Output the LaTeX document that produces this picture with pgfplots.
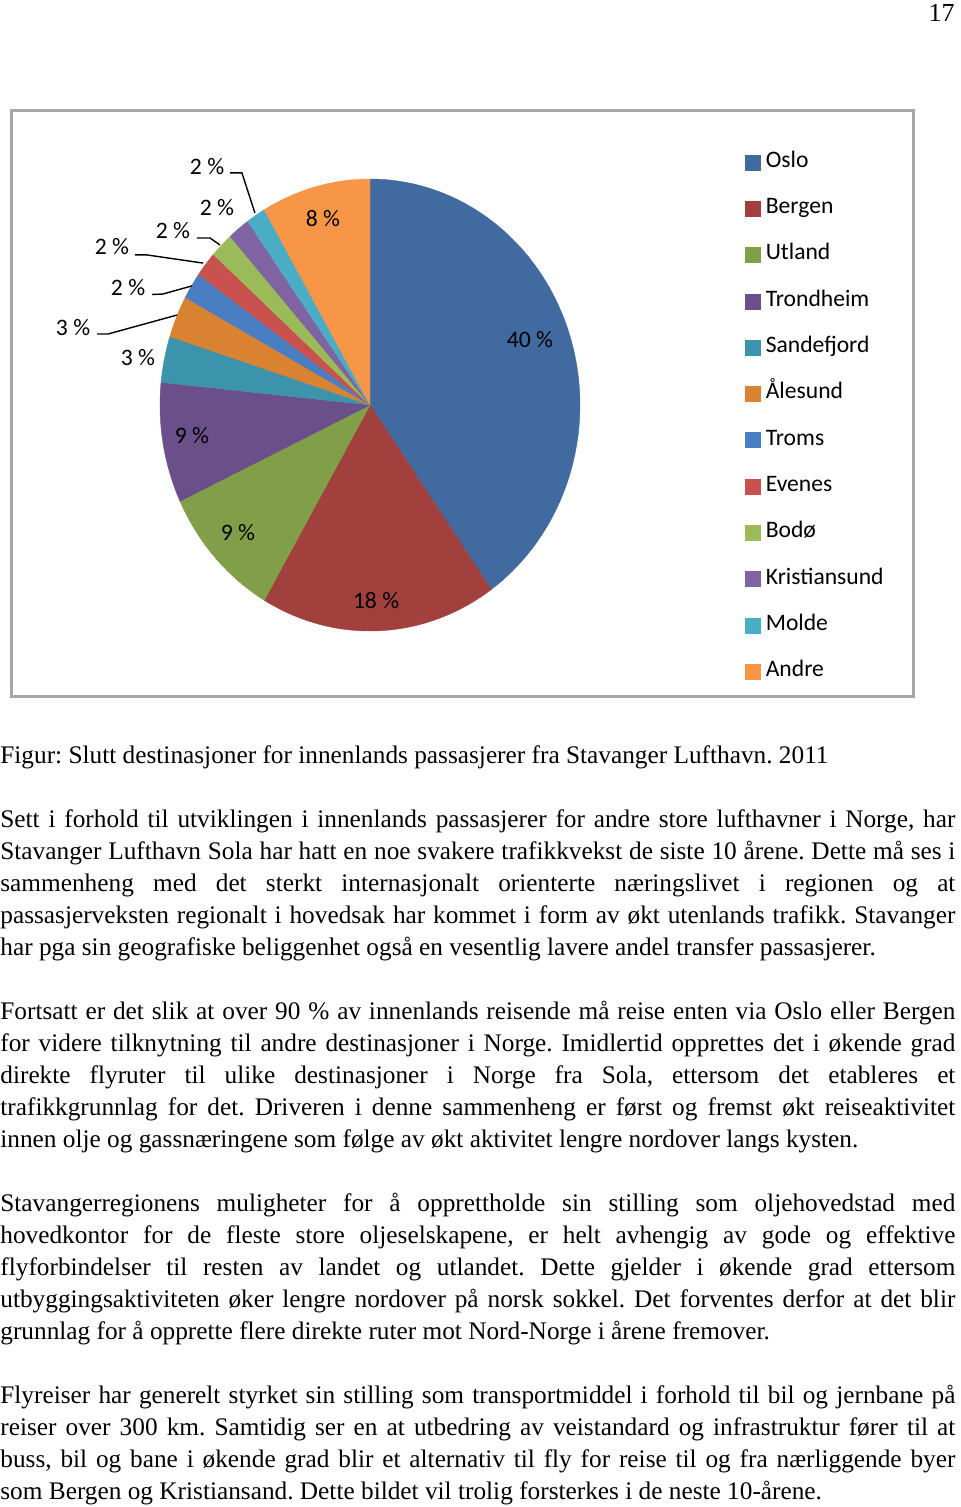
\documentclass[border=0pt]{standalone}
\usepackage{fontspec}
\setmainfont{Liberation Serif}
\newfontfamily\chartfont{Carlito}
\usepackage{pgfplots}
\pgfplotsset{compat=1.18}

% slice colours (Excel style)
\definecolor{cOslo}{RGB}{64,106,160}
\definecolor{cBergen}{RGB}{161,64,61}
\definecolor{cUtland}{RGB}{129,158,72}
\definecolor{cTrondheim}{RGB}{106,79,138}
\definecolor{cSandefjord}{RGB}{60,147,172}
\definecolor{cAalesund}{RGB}{216,130,50}
\definecolor{cTroms}{RGB}{74,126,194}
\definecolor{cEvenes}{RGB}{200,80,77}
\definecolor{cBodo}{RGB}{155,187,89}
\definecolor{cKristiansund}{RGB}{128,100,162}
\definecolor{cMolde}{RGB}{75,172,198}
\definecolor{cAndre}{RGB}{247,150,70}

\newcommand\bodysize{\fontsize{12.65}{16}\selectfont\frenchspacing}
\newcommand\jline[2]{\node[anchor=base west,inner sep=0pt,font=\bodysize] at (0,#1) {\makebox[477.5pt][s]{#2}};}
\newcommand\lline[2]{\node[anchor=base west,inner sep=0pt,font=\bodysize] at (0,#1) {#2};}

\begin{document}
\begin{tikzpicture}[x=0.5pt,y=-0.5pt]
\path[use as bounding box] (0,0) rectangle (960,1507);
\node[anchor=base east,inner sep=0pt,font=\fontsize{13}{16}\selectfont] at (955,22) {17};
\draw[line width=1.5pt,color=gray!70] (11,111) rectangle (913,696);

\begin{axis}[
    at={(185pt,-202.5pt)}, anchor=origin,
    x=105pt, y=113pt,
    xmin=-1, xmax=1, ymin=-1, ymax=1,
    hide axis, clip=false,
    legend cell align=left,
    legend style={draw=none, fill=none, inner sep=0pt,
        at={(axis description cs:1.3929,1.0620)}, anchor=north west,
        row sep=12.15pt, column sep=2.5pt,
        font=\chartfont\fontsize{11.8}{14}\selectfont,
        nodes={inner sep=0pt, text height=8pt, text depth=3pt}},
    legend image code/.code={\fill[#1] (0pt,-3.75pt) rectangle (7.5pt,3.75pt);},
]
\xdef\cum{90}
\foreach \p/\c/\n in {40.2/cOslo/Oslo, 18.2/cBergen/Bergen, 9.6/cUtland/Utland,
    8.6/cTrondheim/Trondheim, 3.3/cSandefjord/Sandefjord, 3.0/cAalesund/Ålesund,
    1.9/cTroms/Troms, 1.8/cEvenes/Evenes, 1.8/cBodo/Bodø,
    1.7/cKristiansund/Kristiansund, 1.5/cMolde/Molde, 8.4/cAndre/Andre}{
  \pgfmathsetmacro\e{\cum-3.6*\p}
  \edef\slice{\noexpand\addplot[fill=\c, draw=\c, line width=0.2pt, domain=\e:\cum, samples=60]
      ({cos(x)},{sin(x)}) -- (axis cs:0,0) -- cycle;
    \noexpand\addlegendentry{\n}}
  \slice
  \xdef\cum{\e}
}
% leader lines
\draw[line width=0.7pt] (axis cs:-0.667,1.027) -- (axis cs:-0.610,1.027) -- (axis cs:-0.548,0.850);
\draw[line width=0.7pt] (axis cs:-0.824,0.739) -- (axis cs:-0.762,0.739) -- (axis cs:-0.714,0.708);
\draw[line width=0.7pt] (axis cs:-1.119,0.664) -- (axis cs:-1.062,0.664) -- (axis cs:-0.795,0.628);
\draw[line width=0.7pt] (axis cs:-1.038,0.489) -- (axis cs:-0.986,0.491) -- (axis cs:-0.848,0.527);
\draw[line width=0.7pt] (axis cs:-1.300,0.314) -- (axis cs:-1.248,0.314) -- (axis cs:-0.919,0.398);
% data labels
\begin{scope}[every node/.style={font=\chartfont\fontsize{11.8}{14}\selectfont, inner sep=0pt}]
\node at (axis cs:0.762,0.288) {40 \%};
\node at (axis cs:0.029,-0.863) {18 \%};
\node at (axis cs:-0.629,-0.566) {9 \%};
\node at (axis cs:-0.848,-0.133) {9 \%};
\node at (axis cs:-1.105,0.208) {3 \%};
\node at (axis cs:-1.414,0.341) {3 \%};
\node at (axis cs:-1.152,0.518) {2 \%};
\node at (axis cs:-1.229,0.699) {2 \%};
\node at (axis cs:-0.938,0.774) {2 \%};
\node at (axis cs:-0.729,0.872) {2 \%};
\node at (axis cs:-0.776,1.053) {2 \%};
\node at (axis cs:-0.224,0.827) {8 \%};
\end{scope}
\end{axis}

\lline{763}{Figur: Slutt destinasjoner for innenlands passasjerer fra Stavanger Lufthavn. 2011}

\jline{827}{Sett i forhold til utviklingen i innenlands passasjerer for andre store lufthavner i Norge, har}
\jline{859}{Stavanger Lufthavn Sola har hatt en noe svakere trafikkvekst de siste 10 årene. Dette må ses i}
\jline{891}{sammenheng med det sterkt internasjonalt orienterte næringslivet i regionen og at}
\jline{923}{passasjerveksten regionalt i hovedsak har kommet i form av økt utenlands trafikk. Stavanger}
\lline{955}{har pga sin geografiske beliggenhet også en vesentlig lavere andel transfer passasjerer.}

\jline{1019}{Fortsatt er det slik at over 90 \% av innenlands reisende må reise enten via Oslo eller Bergen}
\jline{1051}{for videre tilknytning til andre destinasjoner i Norge. Imidlertid opprettes det i økende grad}
\jline{1083}{direkte flyruter til ulike destinasjoner i Norge fra Sola, ettersom det etableres et}
\jline{1115}{trafikkgrunnlag for det. Driveren i denne sammenheng er først og fremst økt reiseaktivitet}
\lline{1147}{innen olje og gassnæringene som følge av økt aktivitet lengre nordover langs kysten.}

\jline{1211}{Stavangerregionens muligheter for å opprettholde sin stilling som oljehovedstad med}
\jline{1243}{hovedkontor for de fleste store oljeselskapene, er helt avhengig av gode og effektive}
\jline{1275}{flyforbindelser til resten av landet og utlandet. Dette gjelder i økende grad ettersom}
\jline{1307}{utbyggingsaktiviteten øker lengre nordover på norsk sokkel. Det forventes derfor at det blir}
\lline{1339}{grunnlag for å opprette flere direkte ruter mot Nord-Norge i årene fremover.}

\jline{1403}{Flyreiser har generelt styrket sin stilling som transportmiddel i forhold til bil og jernbane på}
\jline{1435}{reiser over 300 km. Samtidig ser en at utbedring av veistandard og infrastruktur fører til at}
\jline{1467}{buss, bil og bane i økende grad blir et alternativ til fly for reise til og fra nærliggende byer}
\lline{1499}{som Bergen og Kristiansand. Dette bildet vil trolig forsterkes i de neste 10-årene.}
\end{tikzpicture}
\end{document}
